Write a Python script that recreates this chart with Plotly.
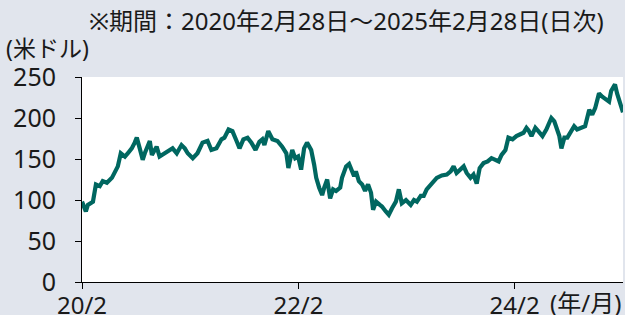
import plotly.graph_objects as go

dates = [
    "2020-02-28", "2020-03-06", "2020-03-12", "2020-03-19", "2020-04-05", "2020-04-15", "2020-04-28",
    "2020-05-08", "2020-05-22", "2020-06-08", "2020-06-18", "2020-06-28", "2020-07-08", "2020-07-22",
    "2020-08-01", "2020-08-14", "2020-08-24", "2020-08-31", "2020-09-10", "2020-09-20", "2020-09-27",
    "2020-10-14", "2020-10-21", "2020-10-31", "2020-11-06", "2020-11-16", "2020-12-03", "2020-12-20",
    "2020-12-30", "2021-01-13", "2021-01-29", "2021-02-09", "2021-02-19", "2021-03-08", "2021-03-24",
    "2021-04-10", "2021-04-27", "2021-05-10", "2021-05-27", "2021-06-13", "2021-06-23", "2021-07-07",
    "2021-07-20", "2021-08-03", "2021-08-13", "2021-08-26", "2021-09-09", "2021-09-22", "2021-10-06",
    "2021-10-19", "2021-10-29", "2021-11-05", "2021-11-18", "2021-12-02", "2021-12-19", "2022-01-04",
    "2022-01-18", "2022-01-25", "2022-02-07", "2022-02-17", "2022-02-27", "2022-03-09", "2022-03-19",
    "2022-03-29", "2022-04-12", "2022-04-22", "2022-04-29", "2022-05-09", "2022-05-19", "2022-05-26",
    "2022-06-05", "2022-06-15", "2022-06-25", "2022-07-05", "2022-07-19", "2022-07-25", "2022-08-08",
    "2022-08-18", "2022-08-28", "2022-09-04", "2022-09-10", "2022-09-20", "2022-10-01", "2022-10-11",
    "2022-10-21", "2022-10-31", "2022-11-07", "2022-11-17", "2022-11-30", "2022-12-07", "2022-12-20",
    "2022-12-30", "2023-01-10", "2023-01-23", "2023-02-02", "2023-02-12", "2023-02-26", "2023-03-14",
    "2023-03-25", "2023-04-04", "2023-04-17", "2023-04-27", "2023-05-07", "2023-05-21", "2023-05-31",
    "2023-06-10", "2023-06-27", "2023-07-14", "2023-07-27", "2023-08-06", "2023-08-16", "2023-08-30",
    "2023-09-09", "2023-09-19", "2023-10-02", "2023-10-12", "2023-10-23", "2023-11-02", "2023-11-15",
    "2023-11-29", "2023-12-12", "2023-12-25", "2024-01-05", "2024-01-15", "2024-01-28", "2024-02-07",
    "2024-02-21", "2024-03-05", "2024-03-19", "2024-03-29", "2024-04-08", "2024-04-15", "2024-04-25",
    "2024-05-08", "2024-05-18", "2024-06-01", "2024-06-14", "2024-07-01", "2024-07-11", "2024-07-21",
    "2024-07-28", "2024-08-04", "2024-08-14", "2024-08-24", "2024-09-06", "2024-09-16", "2024-09-26",
    "2024-10-10", "2024-10-23", "2024-11-06", "2024-11-16", "2024-11-26", "2024-12-09", "2024-12-20",
    "2024-12-30", "2025-01-12", "2025-01-19", "2025-02-01", "2025-02-08", "2025-02-18", "2025-02-25",
    "2025-02-28",
]

prices = [
    98, 92, 86, 94, 98, 119, 117,
    123, 121, 127, 133, 141, 157, 153,
    157, 163, 170, 176, 163, 149, 157,
    172, 155, 161, 165, 153, 157, 161,
    163, 157, 167, 163, 157, 151, 157,
    170, 172, 161, 163, 174, 176, 186,
    184, 172, 163, 174, 176, 170, 161,
    171, 174, 167, 184, 174, 172, 165,
    157, 139, 161, 151, 153, 137, 163,
    170, 161, 143, 127, 115, 106, 115,
    125, 102, 113, 111, 115, 127, 141,
    144, 134, 129, 135, 123, 119, 111,
    119, 109, 88, 98, 94, 92, 86,
    82, 90, 98, 113, 96, 100, 94,
    100, 98, 105, 105, 113, 119, 123,
    127, 130, 131, 135, 141, 133, 137,
    141, 133, 127, 131, 120, 139, 145,
    147, 151, 149, 147, 155, 161, 176,
    174, 178, 180, 182, 188, 185, 178,
    188, 184, 178, 186, 200, 196, 186,
    178, 163, 176, 176, 184, 190, 186,
    188, 190, 210, 204, 212, 230, 226,
    224, 220, 233, 241, 230, 216, 208,
    207,
]

y_ticks = [0, 50, 100, 150, 200, 250]
x_tick_dates = ["2020-02-28", "2022-02-28", "2024-02-28"]
x_tick_labels = ["20/2", "22/2", "24/2"]

title_text = "※期間：2020年2月28日～2025年2月28日(日次)"
unit_y = "(米ドル)"
unit_x = "(年/月)"

FONT = "Noto Sans, Noto Sans CJK JP"
TXT = "#1a1a1a"
LINE_COLOR = "#006760"
BG = "#e1e5ed"

fig = go.Figure()
fig.add_trace(go.Scatter(
    x=dates, y=prices, mode="lines",
    line=dict(color=LINE_COLOR, width=4.2),
    showlegend=False, hoverinfo="skip",
))

fig.update_layout(
    width=625, height=315,
    margin=dict(l=82, r=2, t=77, b=33),
    paper_bgcolor=BG, plot_bgcolor="white",
    font=dict(family=FONT, size=24, color=TXT),
    xaxis=dict(
        type="date", automargin=False,
        range=["2020-02-28", "2025-02-28"],
        tickmode="array", tickvals=x_tick_dates, ticktext=x_tick_labels,
        ticks="outside", ticklen=6, tickwidth=1, tickcolor="black",
        showline=True, linecolor="black", linewidth=1,
        showgrid=False, zeroline=False,
        tickfont=dict(family=FONT, size=24, color=TXT),
        ticklabelstandoff=-4,
    ),
    yaxis=dict(
        range=[0, 250], automargin=False,
        tickmode="array", tickvals=y_ticks,
        ticks="outside", ticklen=6, tickwidth=1, tickcolor="black",
        showline=True, linecolor="black", linewidth=1,
        showgrid=False, zeroline=False,
        tickfont=dict(family=FONT, size=25, color=TXT),
        ticklabelstandoff=14,
    ),
    annotations=[
        dict(text=title_text, xref="paper", yref="paper", x=1.0, y=1.0,
             xanchor="right", yanchor="middle", yshift=57, xshift=-17,
             showarrow=False, font=dict(family=FONT, size=24, color=TXT)),
        dict(text=unit_y, x=0, y=1.0, xref="paper", yref="paper",
             xanchor="left", yanchor="middle", xshift=-78, yshift=29,
             showarrow=False, font=dict(family=FONT, size=23, color=TXT)),
        dict(text=unit_x, x=1.0, y=0, xref="paper", yref="paper",
             xanchor="right", yanchor="middle", yshift=-20, xshift=0,
             showarrow=False, font=dict(family=FONT, size=24, color=TXT)),
    ],
)

fig.write_html(
    "out.html",
    config={"displayModeBar": False},
    post_script="document.body.style.margin='0';document.body.style.background='%s';" % BG,
)
